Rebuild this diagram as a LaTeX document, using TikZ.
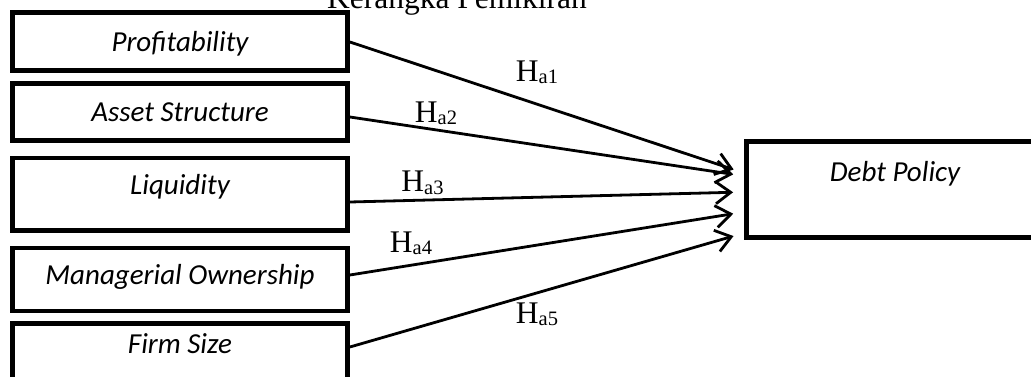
\documentclass[tikz,border=0pt]{standalone}
\usepackage{fontspec}
\setmainfont{Liberation Serif}
\newfontfamily\boxfont{Carlito}
\usetikzlibrary{arrows.meta,positioning}
\tikzset{
 box/.style={draw,line width=4.8pt,align=center,minimum width=335pt,inner sep=0pt,
             text height=20pt,text depth=0pt,font=\boxfont\itshape\fontsize{29}{34}\selectfont},
 arrow/.style={-{Straight Barb[length=15pt,width=22pt]},line width=2.8pt,shorten >=11pt},
 hyp/.style={anchor=base,inner sep=0pt,font=\fontsize{31.5}{36}\selectfont},
}
\newcommand{\hlabel}[1]{H\raisebox{-2pt}{\fontsize{20.5}{24}\selectfont a#1}}

\begin{document}
\begin{tikzpicture}[x=1pt,y=1pt,node distance=8pt and 0pt]
\clip (0,0) rectangle (1031,-377);
\node[hyp] (title) at (457,-9) {Kerangka Pemikiran};
\node[box,minimum height=58pt] (prof) at (180,-41.5) {Profitability};
\node[box,minimum height=57pt,below=8pt of prof] (asset) {Asset Structure};
\node[box,minimum height=72pt,text depth=20pt,below=13pt of asset] (liq) {Liquidity};
\node[box,minimum height=63pt,text depth=10pt,below=13pt of liq] (mown) {Managerial Ownership};
\node[box,minimum height=65pt,text depth=26pt,below=8pt of mown] (size) {Firm Size};
\node[box,minimum width=297pt,minimum height=96pt,text depth=36pt] (debt) at (895,-189.5) {Debt Policy};
\draw[arrow] ([yshift=-0.5pt]prof.east) -- ([yshift=16.5pt]debt.west);
\draw[arrow] ([yshift=-5.2pt]asset.east) -- ([yshift=13.5pt]debt.west);
\draw[arrow] ([yshift=-7.9pt]liq.east) -- ([yshift=-2.5pt]debt.west);
\draw[arrow] ([yshift=4.4pt]mown.east) -- ([yshift=-22.5pt]debt.west);
\draw[arrow] ([yshift=9.2pt]size.east) -- ([yshift=-43.5pt]debt.west);
\node[hyp] (ha1) at (537,-82) {\hlabel{1}};
\node[hyp] (ha2) at (436,-123) {\hlabel{2}};
\node[hyp] (ha3) at (422.5,-192) {\hlabel{3}};
\node[hyp] (ha4) at (411,-252) {\hlabel{4}};
\node[hyp] (ha5) at (537,-323) {\hlabel{5}};
\end{tikzpicture}
\end{document}
